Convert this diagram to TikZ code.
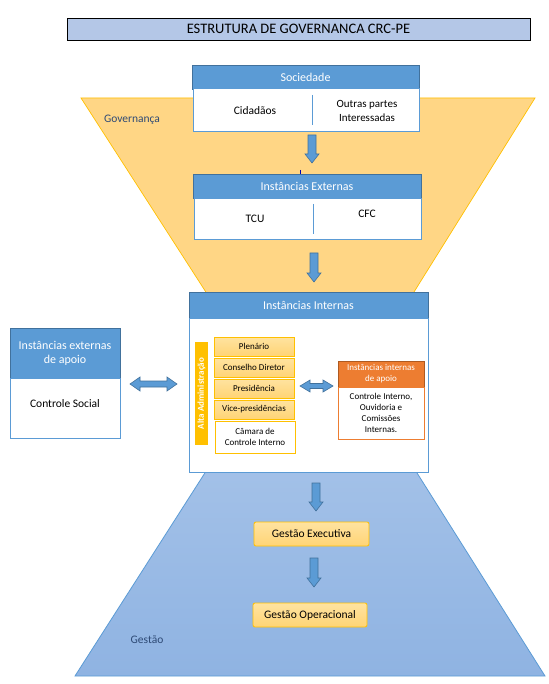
\documentclass[tikz,border=0pt]{standalone}
\usepackage{fontspec}
\setmainfont{Carlito}
\definecolor{hdrblue}{HTML}{5B9BD5}
\definecolor{hdrline}{HTML}{41719C}
\definecolor{titlefill}{HTML}{B4C7E7}
\definecolor{gov}{HTML}{FFD685}
\definecolor{govline}{HTML}{FFC000}
\definecolor{gesttop}{HTML}{A3C1E8}
\definecolor{gestbot}{HTML}{8FB3E2}
\definecolor{labelblue}{HTML}{2E4A75}
\definecolor{ylw}{HTML}{FFC000}
\definecolor{ylwlight}{HTML}{FFE3A0}
\definecolor{ylwdark}{HTML}{FFD475}
\definecolor{orng}{HTML}{ED7D31}
\definecolor{orngline}{HTML}{AE5A21}
\newcommand\blkdown[3]{%
  \filldraw[fill=hdrblue,draw=hdrline,line width=0.6pt]
  (#1-4,#2) -- (#1+4,#2) -- (#1+4,#3-9) -- (#1+7,#3-9) -- (#1,#3) --
  (#1-7,#3-9) -- (#1-4,#3-9) -- cycle;}
\newcommand\blkdbl[5]{% x1 x2 y headhalf shafthalf
  \filldraw[fill=hdrblue,draw=hdrline,line width=0.6pt]
  (#1,#3) -- (#1+10,#3-#4) -- (#1+10,#3-#5) -- (#2-10,#3-#5) -- (#2-10,#3-#4) --
  (#2,#3) -- (#2-10,#3+#4) -- (#2-10,#3+#5) -- (#1+10,#3+#5) -- (#1+10,#3+#4) -- cycle;}
\begin{document}
\begin{tikzpicture}[x=1pt,y=-1pt,
  every node/.style={inner sep=0pt,outer sep=0pt},
  hdr/.style={anchor=north west,fill=hdrblue,draw=hdrline,line width=0.7pt,text=white,font=\fontsize{12}{14}\selectfont},
  bodybox/.style={anchor=north west,fill=white,draw=hdrblue,line width=0.8pt},
  txt/.style={font=\fontsize{11.5}{14}\selectfont,align=center},
  small/.style={font=\fontsize{9}{11}\selectfont,align=center},
  ystack/.style={anchor=north west,top color=ylwlight,bottom color=ylwdark,draw=ylw,line width=0.7pt,font=\fontsize{9}{11}\selectfont,minimum width=80,minimum height=19},
  gestbox/.style={anchor=north west,rounded corners=2pt,top color=ylwlight,bottom color=ylwdark,draw=ylw,line width=0.8pt,font=\fontsize{11.5}{14}\selectfont},
  lbl/.style={text=labelblue,font=\fontsize{11.5}{14}\selectfont}
]
\useasboundingbox (0,0) rectangle (548,684);
\fill[white] (0,0) rectangle (548,684);

% funnels
\path[top color=gesttop,bottom color=gestbot] (210,465) -- (412,465) -- (545,676) -- (75,676) -- cycle;
\draw[hdrblue,line width=0.8pt] (210,465) -- (75,676) -- (545,676) -- (412,465);
\path[fill=gov] (81,98) -- (535,98) -- (409,300) -- (211,300) -- cycle;
\draw[govline,line width=0.7pt] (211,300) -- (81,98) -- (535,98) -- (409,300);

% title
\node[anchor=north west,fill=titlefill,draw=black,line width=0.8pt,minimum width=463,minimum height=22,font=\fontsize{14.5}{16}\selectfont] (title) at (67,18) {ESTRUTURA DE GOVERNANCA CRC-PE};

\node[lbl] (governanca) at (132,120) {Governança};
\node[lbl] (gestao) at (147,640) {Gestão};

% Sociedade
\node[hdr,minimum width=227,minimum height=24] (soc) at (192,65) {Sociedade};
\node[bodybox,minimum width=226,minimum height=43] (socb) at (193,88) {};
\draw[hdrblue,line width=0.8pt] (312,95) -- (312,125);
\node[txt] (cid) at (255,111) {Cidadãos};
\node[txt,font=\fontsize{11}{14}\selectfont] (outras) at (367,111) {Outras partes\\Interessadas};

\blkdown{312}{135}{163}
\draw[black!30!blue,line width=0.8pt] (300,170) -- (300,176);
\draw[orng,line width=0.8pt] (300,176) -- (300,183);

% Instancias Externas
\node[hdr,minimum width=228,minimum height=24] (ext) at (193,174) {Instâncias Externas};
\node[bodybox,minimum width=227,minimum height=41] (extb) at (194,198) {};
\draw[hdrblue,line width=0.8pt] (313,204) -- (313,234);
\node[txt] (tcu) at (255,219) {TCU};
\node[txt] (cfc) at (367,214) {CFC};

\blkdown{314}{253}{282}

% Instancias Internas
\node[hdr,minimum width=239,minimum height=26] (int) at (189,292) {Instâncias Internas};
\node[bodybox,minimum width=239,minimum height=154] (intb) at (189,318) {};

% left box
\node[hdr,minimum width=110,minimum height=50,align=center] (extap) at (10,328) {Instâncias externas\\de apoio};
\node[bodybox,minimum width=110,minimum height=60] (csb) at (10,378) {};
\node[txt] (cs) at (65,404) {Controle Social};

\blkdbl{130}{177}{384}{7}{3}

% Alta administracao
\node[anchor=north west,fill=ylw,minimum width=13,minimum height=103] (alta) at (195,342) {};
\node[rotate=90,text=white,font=\fontsize{9}{10}\selectfont\bfseries] at (alta.center) {Alta Administração};

\node[ystack] (plen) at (214,337) {Plenário};
\node[ystack] (cons) at (214,358) {Conselho Diretor};
\node[ystack] (pres) at (214,379) {Presidência};
\node[ystack] (vice) at (214,400) {Vice-presidências};
\node[anchor=north west,fill=white,draw=ylw,line width=0.7pt,minimum width=80,minimum height=32,small] (cam) at (215,421) {Câmara de\\Controle Interno};

\blkdbl{300}{333}{386}{6}{2.5}

\node[anchor=north west,fill=orng,draw=orngline,line width=0.7pt,minimum width=86,minimum height=26,text=white,small] (intap) at (338,361) {Instâncias internas\\de apoio};
\node[anchor=north west,fill=white,draw=orng,line width=0.8pt,minimum width=86,minimum height=52,small] (intapb) at (338,387) {Controle Interno,\\Ouvidoria e\\Comissões\\Internas.};

\blkdown{316}{483}{511}
\node[gestbox,minimum width=115,minimum height=24] (gex) at (254,522) {Gestão Executiva};
\blkdown{314}{558}{587}
\node[gestbox,minimum width=114,minimum height=24] (gop) at (253,603) {Gestão Operacional};
\end{tikzpicture}
\end{document}
